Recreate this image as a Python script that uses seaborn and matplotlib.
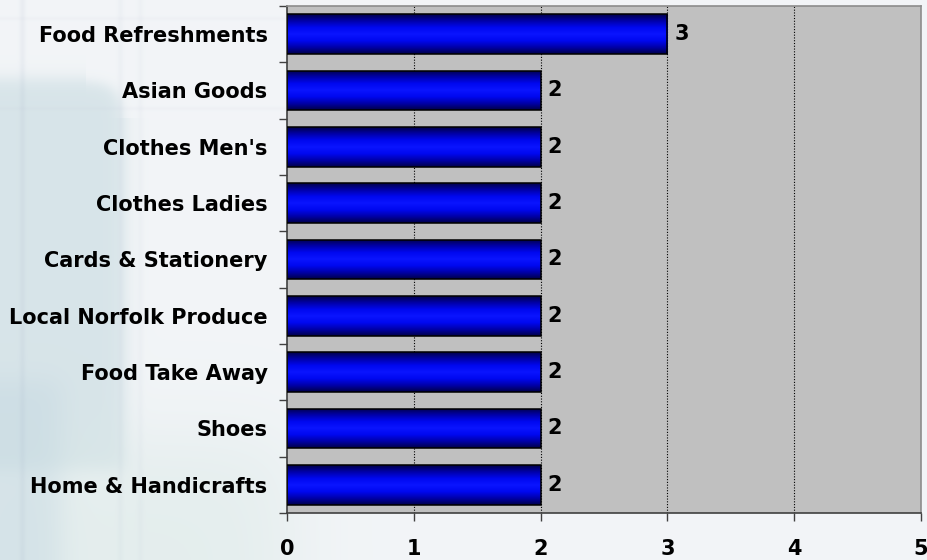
import numpy as np
import matplotlib
matplotlib.use("Agg")
import matplotlib.pyplot as plt
from matplotlib.colors import LinearSegmentedColormap
import seaborn as sns
import pandas as pd

# Stall counts by category
categories = [
    "Food Refreshments", "Asian Goods", "Clothes Men's", "Clothes Ladies",
    "Cards & Stationery", "Local Norfolk Produce", "Food Take Away",
    "Shoes", "Home & Handicrafts",
]
values = [3, 2, 2, 2, 2, 2, 2, 2, 2]
x_ticks = [0, 1, 2, 3, 4, 5]

sns.set_theme(style="white")
plt.rcParams["font.family"] = ["DejaVu Sans"]
plt.rcParams["text.color"] = "black"
plt.rcParams["xtick.labelcolor"] = "black"
plt.rcParams["ytick.labelcolor"] = "black"

FS = 15

W, H = 927, 560
fig = plt.figure(figsize=(W / 100, H / 100), dpi=100)

# ---- soft decorative backdrop ----
yy, xx = np.mgrid[0:H, 0:W].astype(float)
img = np.ones((H, W, 3))
img[:] = np.array([0.95, 0.96, 0.97])
teal = np.array([0.82, 0.88, 0.90])
green = np.array([0.85, 0.91, 0.90])

def soft_mask(x0, x1, y0, y1, s=6.0):
    mx = 1 / (1 + np.exp(-(xx - x0) / s)) * 1 / (1 + np.exp((xx - x1) / s))
    my = 1 / (1 + np.exp(-(yy - y0) / s)) * 1 / (1 + np.exp((yy - y1) / s))
    return (mx * my)[..., None]

# rounded pale block on the left
m1 = soft_mask(-50, 125, 78, 470, 5)
r = np.hypot(xx - 85, yy - 118)
corner = np.where((xx > 85) & (yy < 118), 1 / (1 + np.exp((r - 40) / 4)), 1.0)[..., None]
img = img * (1 - 0.8 * m1 * corner) + teal * 0.8 * m1 * corner
# lower greenish band
m2 = soft_mask(-50, 290, 440, 700, 25)
img = img * (1 - 0.55 * m2) + green * 0.55 * m2
m3 = soft_mask(-50, 60, 380, 700, 8)
img = img * (1 - 0.45 * m3) + np.array([0.76, 0.84, 0.88]) * 0.45 * m3
# faint vertical streaks
for xc, a in [(22, 0.10), (120, 0.06), (140, 0.05)]:
    m = np.exp(-((xx - xc) / 3) ** 2)[..., None]
    img = img * (1 - a * m) + np.array([0.6, 0.65, 0.75]) * a * m
# faint horizontal lines at top
for yc, a in [(18, 0.06), (108, 0.06)]:
    m = (np.exp(-((yy - yc) / 2) ** 2) * (xx < 290))[..., None]
    img = img * (1 - a * m) + np.array([0.7, 0.7, 0.8]) * a * m

bg = fig.add_axes([0, 0, 1, 1], zorder=-10)
bg.imshow(np.clip(img, 0, 1), aspect="auto", extent=(0, W, H, 0))
bg.set_axis_off()

# ---- main chart ----
left, right, top, bottom = 287, 921, 6, 513
ax = fig.add_axes([left / W, 1 - bottom / H, (right - left) / W, (bottom - top) / H])
ax.set_facecolor("#c0c0c0")

df = pd.DataFrame({"category": categories, "value": values})
sns.barplot(data=df, y="category", x="value", orient="h", ax=ax,
            width=0.71, color="#0000ff", edgecolor="black", linewidth=1.1,
            zorder=3)

# vertical shading on each bar
cmap = LinearSegmentedColormap.from_list(
    "bar", ["#000048", "#0000a8", "#0008f0", "#0a14ff", "#0008f0", "#0000a8", "#000048"])
grad = np.linspace(0, 1, 256)[:, None]
for p in ax.patches:
    x0, y0 = p.get_x(), p.get_y()
    w, h = p.get_width(), p.get_height()
    im = ax.imshow(grad, cmap=cmap, aspect="auto",
                   extent=(x0, x0 + w, y0 + h, y0), zorder=2.5,
                   interpolation="bilinear")
    im.set_clip_path(p)
    p.set_facecolor("none")

ax.set_xlim(0, 5)
ax.set_ylim(len(categories) - 0.5, -0.5)

for c in ax.containers:
    ax.bar_label(c, labels=[str(v) for v in values], padding=5,
                 fontsize=FS, fontweight="bold", color="black")

ax.set_xticks(x_ticks)
ax.set_xticklabels([str(t) for t in x_ticks], fontsize=FS, fontweight="bold")
ax.set_yticks(range(len(categories)))
ax.set_yticklabels(categories, fontsize=FS, fontweight="bold")
ax.set_yticks(np.arange(-0.5, len(categories)), minor=True)
ax.tick_params(axis="y", which="major", length=0, pad=14)
ax.tick_params(axis="y", which="minor", length=6, width=1, color="#404040",
               direction="out", left=True)
ax.tick_params(axis="x", which="major", length=6, width=1, color="#404040",
               direction="out", bottom=True, pad=13)
ax.set_xlabel("")
ax.set_ylabel("")

for xv in x_ticks[1:-1]:
    ax.axvline(xv, color="black", linestyle=(0, (1, 1.5)), linewidth=0.8, zorder=1)

for s in ["left", "bottom"]:
    ax.spines[s].set_color("#404040")
    ax.spines[s].set_linewidth(1.2)
for s in ["top", "right"]:
    ax.spines[s].set_color("#8c8c8c")
    ax.spines[s].set_linewidth(1.2)

fig.savefig("out.png", dpi=100)
